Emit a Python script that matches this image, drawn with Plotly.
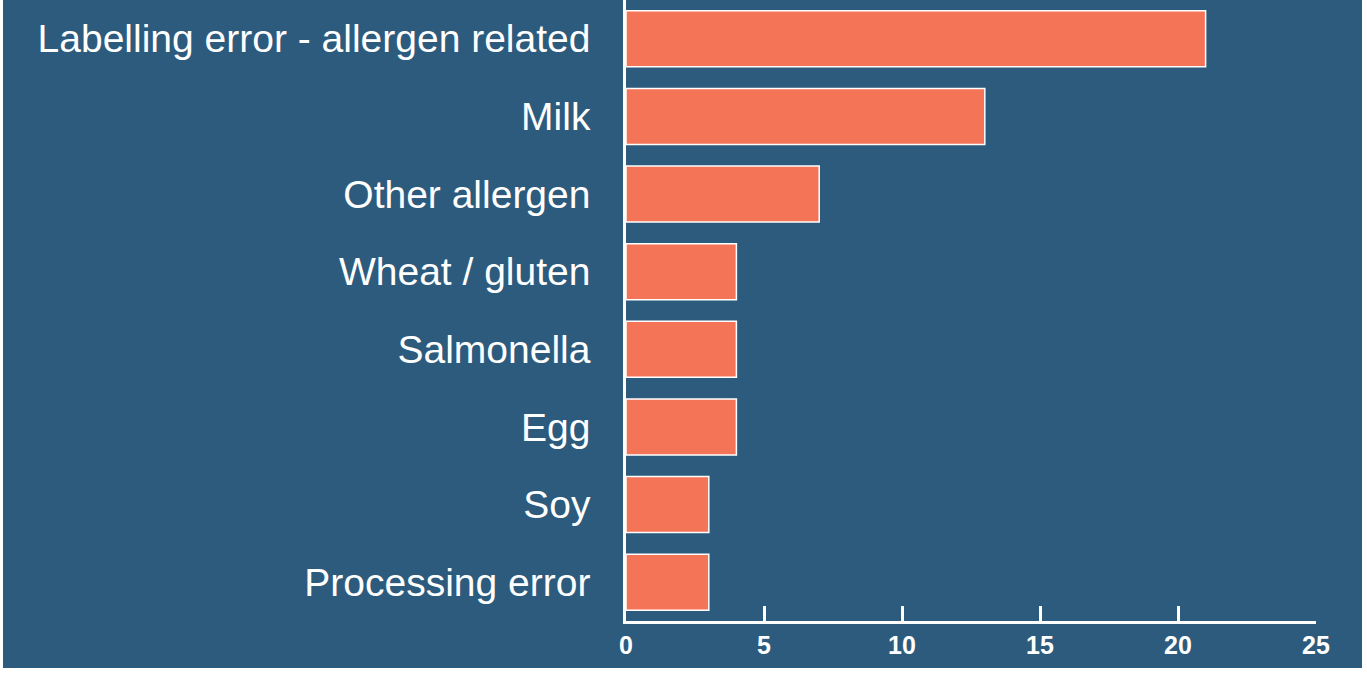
import plotly.graph_objects as go

categories = ["Labelling error - allergen related", "Milk", "Other allergen", "Wheat / gluten",
              "Salmonella", "Egg", "Soy", "Processing error"]
counts = [21, 13, 7, 4, 4, 4, 3, 3]
x_ticks = [0, 5, 10, 15, 20, 25]

BG = "#2D5B7D"
BAR = "#F47458"

fig = go.Figure(go.Bar(
    x=counts, y=categories, orientation="h",
    marker=dict(color=BAR, line=dict(color="white", width=1.5)),
    width=0.72,
))

fig.update_layout(
    width=1359, height=668,
    paper_bgcolor=BG, plot_bgcolor=BG,
    margin=dict(l=623, r=46, t=0, b=47),
    showlegend=False,
    font=dict(family="Liberation Sans, Arial, sans-serif", color="white"),
)
fig.update_xaxes(
    range=[0, 25], tickvals=x_ticks, showgrid=False, zeroline=False,
    showline=True, linecolor="white", linewidth=2.5,
    ticks="inside", ticklen=15, tickwidth=2.5, tickcolor="white",
    tickfont=dict(size=25, family="Liberation Sans, Arial, sans-serif", color="white", weight="bold"),
)
fig.update_yaxes(
    categoryorder="array", categoryarray=categories, autorange="reversed",
    showgrid=False, zeroline=False,
    showline=True, linecolor="white", linewidth=2.5,
    ticks="", ticklabelstandoff=25,
    tickfont=dict(size=39, color="white"),
)

fig.write_html("out.html", post_script="document.body.style.margin='0 0 0 3px';")
